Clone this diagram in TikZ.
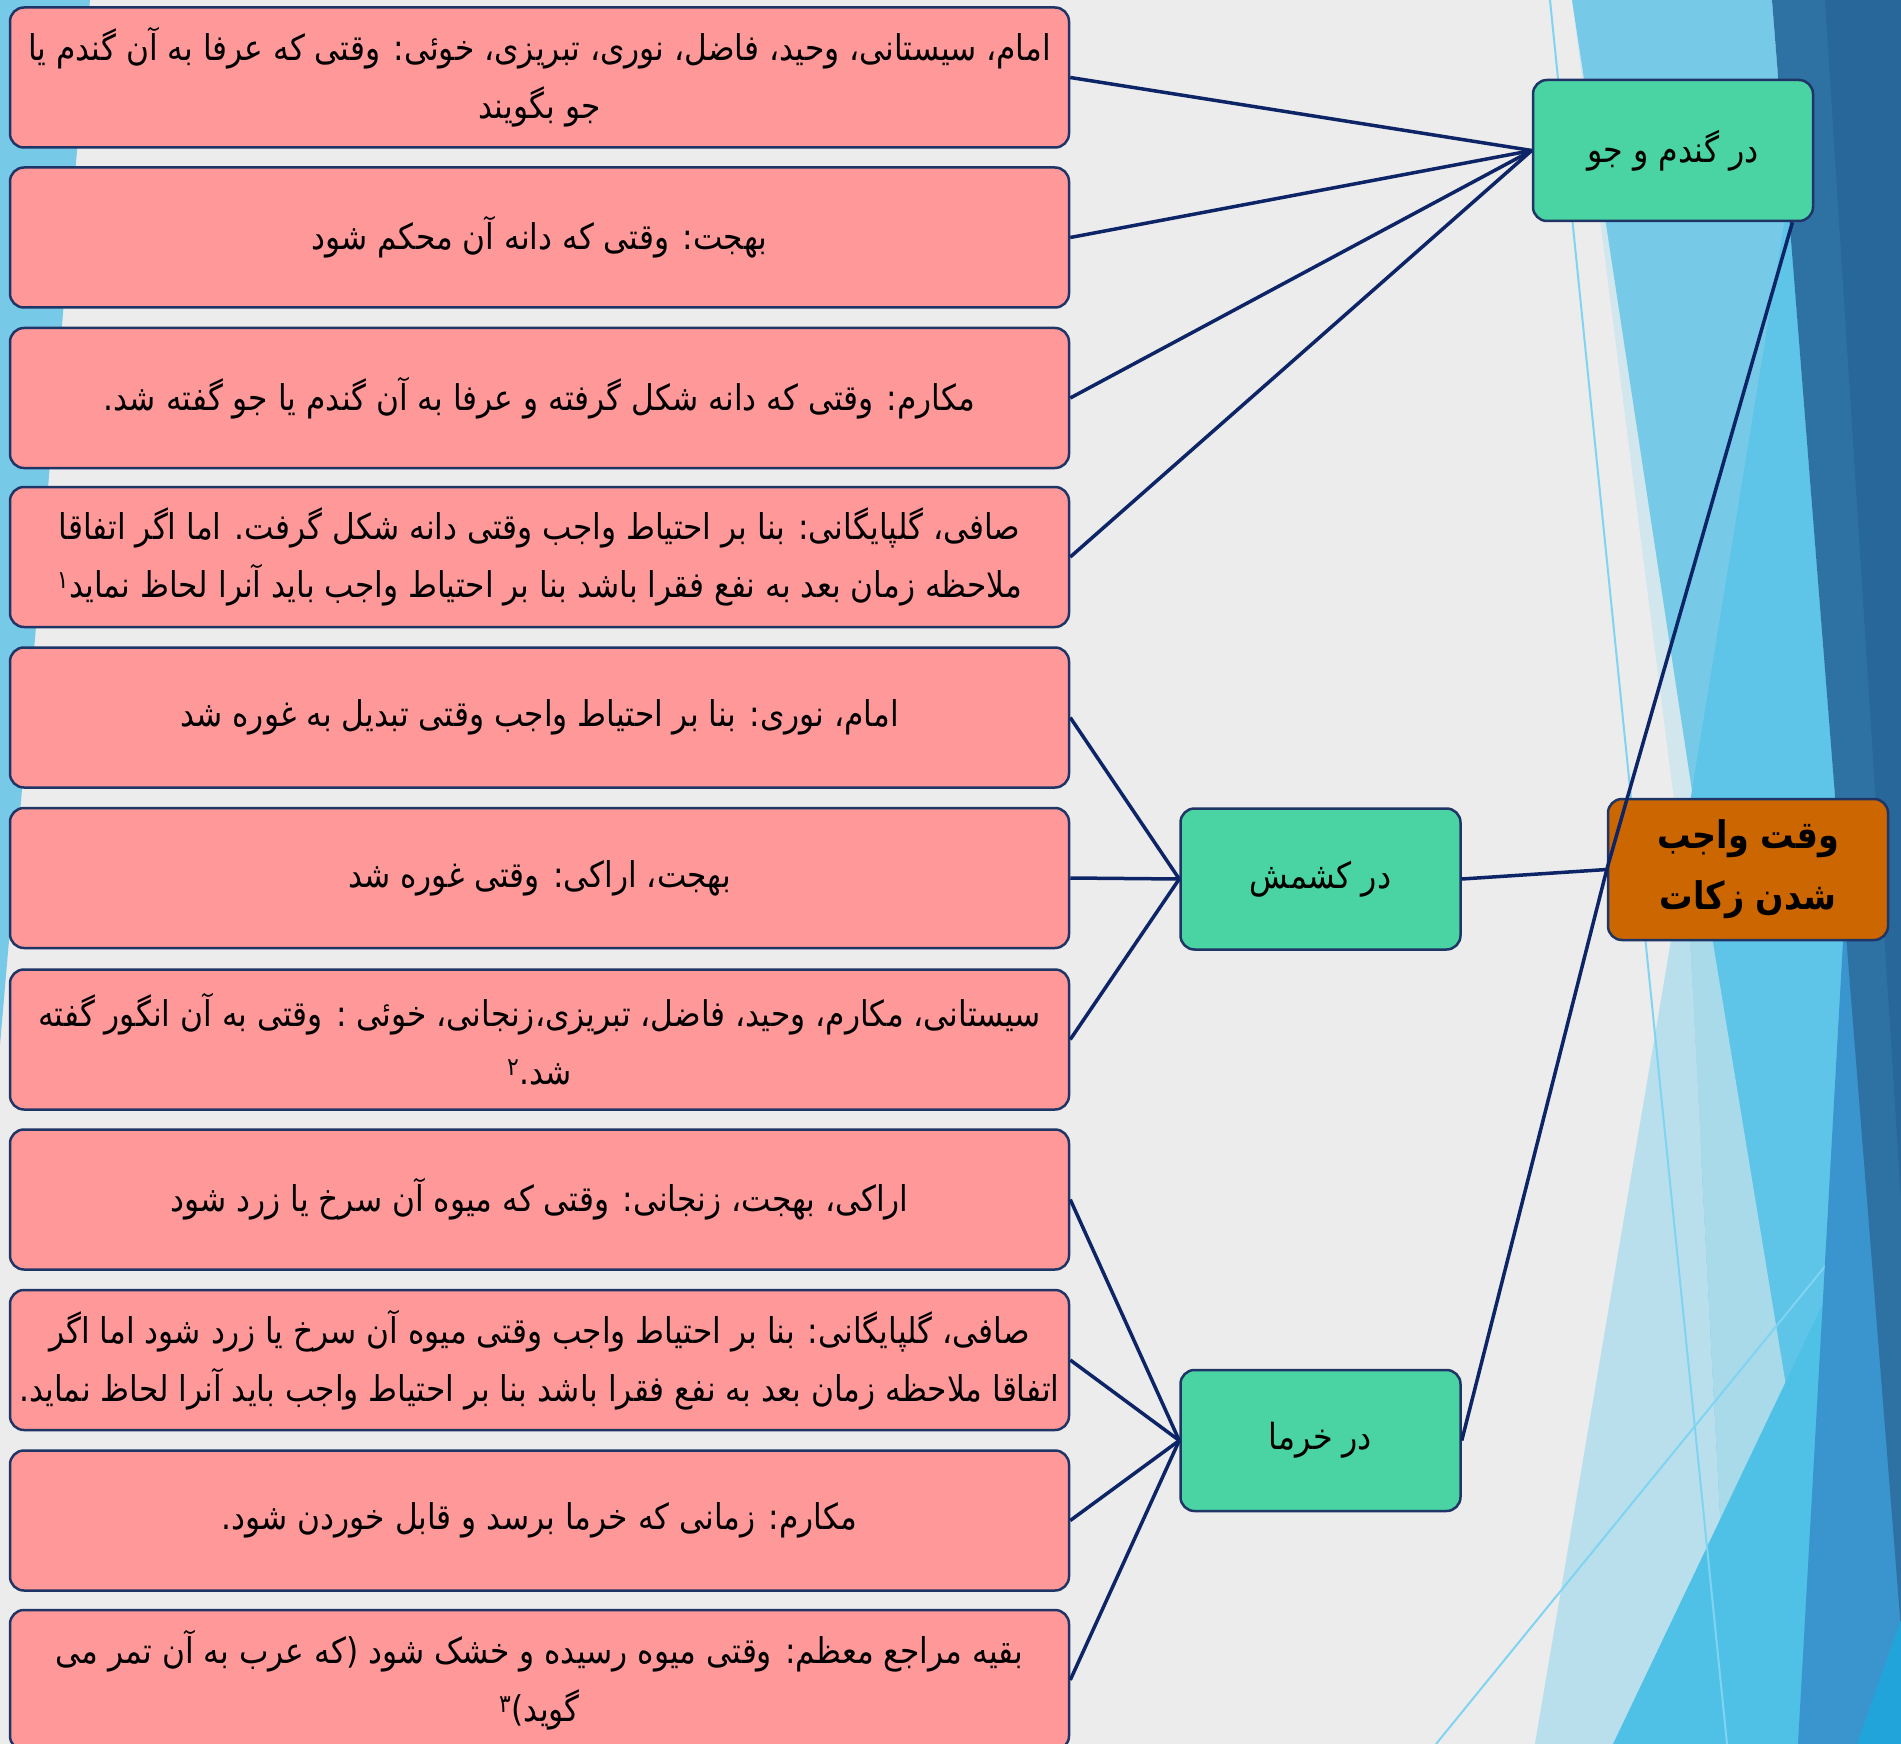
\documentclass[tikz,border=0pt]{standalone}
\usepackage{fontspec}
\newfontfamily\arabicfont[Script=Arabic,FakeStretch=0.88]{DejaVu Sans}
\TeXXeTstate=1
\newcommand{\rl}[1]{\beginR #1\endR}
\definecolor{bggray}{HTML}{ECECEC}
\definecolor{sky}{HTML}{76CAE8}
\definecolor{pale}{HTML}{D2E6EE}
\definecolor{paleblue}{HTML}{B9DFED}
\definecolor{lightb}{HTML}{A8DAEA}
\definecolor{medb}{HTML}{5EC4E8}
\definecolor{steel}{HTML}{3A95CE}
\definecolor{darkA}{HTML}{2E72A4}
\definecolor{darkB}{HTML}{27679A}
\definecolor{brightA}{HTML}{4FC0E6}
\definecolor{brightB}{HTML}{20A4DA}
\definecolor{thinl}{HTML}{80D4F1}
\definecolor{pinkfill}{HTML}{FF9999}
\definecolor{greenfill}{HTML}{4AD3A3}
\definecolor{orangefill}{HTML}{CC6600}
\definecolor{boxline}{HTML}{1F3566}
\definecolor{conncol}{HTML}{0D2566}
\tikzset{
  pinkbox/.style={draw=boxline, line width=2.5pt, fill=pinkfill, rounded corners=14pt,
    minimum width=1059pt, minimum height=140pt, inner sep=0pt, align=center,
    font=\arabicfont\fontsize{35.5}{58}\selectfont},
  greenbox/.style={draw=boxline, line width=2.5pt, fill=greenfill, rounded corners=14pt,
    minimum width=280pt, minimum height=141pt, inner sep=0pt, align=center,
    font=\arabicfont\fontsize{36}{46}\selectfont},
  titlebox/.style={draw=boxline, line width=2.5pt, fill=orangefill, rounded corners=14pt,
    minimum width=280pt, minimum height=141pt, inner sep=0pt, align=center,
    font=\arabicfont\bfseries\fontsize{38}{61}\selectfont},
  conn/.style={draw=conncol, line width=3.5pt},
  thinline/.style={draw=thinl, line width=2pt}
}
\begin{document}
\begin{tikzpicture}[x=1pt,y=-1pt]
\useasboundingbox (0,0) rectangle (1901,1744);
\clip (0,0) rectangle (1901,1744);
% background
\fill[bggray] (0,0) rectangle (1901,1744);
\fill[sky] (0,0) -- (90,0) -- (0,1045) -- cycle;
\fill[pale] (1572,0) -- (1901,0) -- (1901,1744) -- (1535,1744) -- (1683,870) -- cycle;
\fill[sky] (1572,0) -- (1772,0) -- (1841,870) -- (1704,870) -- cycle;
\fill[medb] (1788,200) -- (1841,870) -- (1679,870) -- cycle;
\fill[medb] (1701,870) -- (1850,870) -- (1798,1744) -- (1700,1744) -- cycle;
\fill[lightb] (1686,870) -- (1701,870) -- (1845,1744) -- (1732,1744) -- cycle;
\fill[paleblue] (1683,870) -- (1686,870) -- (1732,1744) -- (1535,1744) -- cycle;
\fill[brightA] (1613,1744) -- (1901,1140) -- (1901,1744) -- cycle;
\draw[thinline] (1550,0) -- (1727,1744);
\draw[thinline] (1436,1744) -- (1901,1173);
\fill[steel] (1847,870) -- (1901,870) -- (1901,1744) -- (1798,1744) -- cycle;
\fill[darkA] (1772,0) -- (1901,0) -- (1901,1630) -- cycle;
\fill[darkB] (1825,0) -- (1901,0) -- (1901,1200) -- cycle;
\fill[brightB] (1857,1744) -- (1901,1620) -- (1901,1744) -- cycle;
% pink boxes
\node[pinkbox] (p1) at (539.5,77.5) {\rl{امام، سیستانی، وحید، فاضل، نوری، تبریزی، خوئی: وقتی که عرفا به آن گندم یا}\\\rl{جو بگویند}};
\node[pinkbox] (p2) at (539.5,237.5) {\rl{بهجت: وقتی که دانه آن محکم شود}};
\node[pinkbox] (p3) at (539.5,398) {\rl{مکارم: وقتی که دانه شکل گرفته و عرفا به آن گندم یا جو گفته شد.}};
\node[pinkbox] (p4) at (539.5,557) {\rl{صافی، گلپایگانی: بنا بر احتیاط واجب وقتی دانه شکل گرفت. اما اگر اتفاقا}\\\rl{ملاحظه زمان بعد به نفع فقرا باشد بنا بر احتیاط واجب باید آنرا لحاظ نماید\textsuperscript{۱}}};
\node[pinkbox] (p5) at (539.5,717.5) {\rl{امام، نوری: بنا بر احتیاط واجب وقتی تبدیل به غوره شد}};
\node[pinkbox] (p6) at (539.5,878) {\rl{بهجت، اراکی: وقتی غوره شد}};
\node[pinkbox] (p7) at (539.5,1039.5) {\rl{سیستانی، مکارم، وحید، فاضل، تبریزی،زنجانی، خوئی : وقتی به آن انگور گفته}\\\rl{شد.\textsuperscript{۲}}};
\node[pinkbox] (p8) at (539.5,1199.5) {\rl{اراکی، بهجت، زنجانی: وقتی که میوه آن سرخ یا زرد شود}};
\node[pinkbox] (p9) at (539.5,1360) {\rl{صافی، گلپایگانی: بنا بر احتیاط واجب وقتی میوه آن سرخ یا زرد شود اما اگر}\\\rl{اتفاقا ملاحظه زمان بعد به نفع فقرا باشد بنا بر احتیاط واجب باید آنرا لحاظ نماید.}};
\node[pinkbox] (p10) at (539.5,1520.5) {\rl{مکارم: زمانی که خرما برسد و قابل خوردن شود.}};
\node[pinkbox] (p11) at (539.5,1680) {\rl{بقیه مراجع معظم: وقتی میوه رسیده و خشک شود (که عرب به آن تمر می}\\\rl{گوید)\textsuperscript{۳}}};
% category boxes
\node[greenbox] (g1) at (1673,150.5) {\rl{در گندم و جو}};
\node[greenbox] (g2) at (1320.5,879) {\rl{در کشمش}};
\node[greenbox] (g3) at (1320.5,1440.5) {\rl{در خرما}};
\node[titlebox] (top) at (1748,869.5) {\rl{وقت واجب}\\\rl{شدن زکات}};
% connectors
\foreach \p in {p1,p2,p3,p4} \draw[conn] (g1.west) -- (\p.east);
\foreach \p in {p5,p6,p7} \draw[conn] (g2.west) -- (\p.east);
\foreach \p in {p8,p9,p10,p11} \draw[conn] (g3.west) -- (\p.east);
\draw[conn] (top.west) -- (g2.east);
\draw[conn] (top.west) -- (g3.east);
\draw[conn] (top.west) -- (g1.-31);
\end{tikzpicture}
\end{document}
